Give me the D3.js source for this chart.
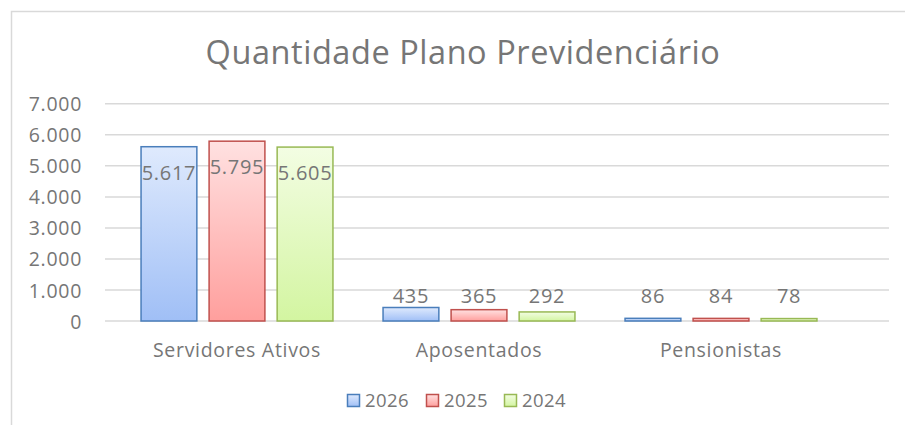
<!DOCTYPE html>
<html>
<head>
<meta charset="utf-8">
<script src="https://cdn.jsdelivr.net/npm/d3@7"></script>
<style>
  body { margin: 0; background: #fff; }
  svg { display: block; font-family: "Open Sans", sans-serif; }
</style>
</head>
<body>
<svg id="chart"></svg>
<script>
var width = 905;
var height = 425;

var categories = ['Servidores Ativos', 'Aposentados', 'Pensionistas'];
var years = ['2026', '2025', '2024'];
var values2026 = [5617, 435, 86];
var values2025 = [5795, 365, 84];
var values2024 = [5605, 292, 78];
var yTicks = [0, 1000, 2000, 3000, 4000, 5000, 6000, 7000];

var seriesValues = { '2026': values2026, '2025': values2025, '2024': values2024 };

var colors = {
    '2026': { stroke: '#4a7ebb', top: '#dfeafd', bottom: '#a0bff6' },
    '2025': { stroke: '#c0504d', top: '#ffe1e1', bottom: '#ff9f9d' },
    '2024': { stroke: '#98b954', top: '#f3fde3', bottom: '#d3f5a1' }
};

var textColor = '#767676';
var gridColor = '#d9d9d9';
var labelSize = 19.5;
var labelSpacing = '0.7px';

var svg = d3.select('#chart')
  .attr('width', width)
  .attr('height', height);

// gradients
var defs = svg.append('defs');
years.forEach(function (yr) {
    var g = defs.append('linearGradient')
      .attr('id', 'grad' + yr)
      .attr('x1', 0).attr('y1', 0).attr('x2', 0).attr('y2', 1);
    g.append('stop').attr('offset', '0%').attr('stop-color', colors[yr].top);
    g.append('stop').attr('offset', '100%').attr('stop-color', colors[yr].bottom);
});

// chart border (runs off the picture on the right and bottom)
svg.append('path')
  .attr('d', 'M11.5,' + height + 'V11.5H' + width)
  .attr('fill', 'none')
  .attr('stroke', gridColor)
  .attr('stroke-width', 1.5);

// title
svg.append('text')
  .attr('x', 463)
  .attr('y', 64)
  .attr('text-anchor', 'middle')
  .attr('fill', textColor)
  .attr('font-size', 32.5)
  .style('letter-spacing', '0.55px')
  .text('Quantidade Plano Previdenciário');

var y = d3.scaleLinear()
  .domain([0, 7000])
  .range([321, 103.8]);

var x0 = d3.scaleBand()
  .domain(categories)
  .range([116, 842])
  .paddingInner(0.207)
  .paddingOuter(0.1035);

var x1 = d3.scaleBand()
  .domain(years)
  .range([0, x0.bandwidth()])
  .paddingInner(0.18);

var fmt = function (v) {
    return d3.format(',')(v).replace(/,/g, '.');
};

// gridlines
svg.append('g')
  .selectAll('line')
  .data(yTicks)
  .enter().append('line')
  .attr('x1', 105)
  .attr('x2', 889)
  .attr('y1', function (d) { return y(d); })
  .attr('y2', function (d) { return y(d); })
  .attr('stroke', gridColor)
  .attr('stroke-width', 1.5);

// y axis labels
var yAxis = d3.axisLeft(y)
  .tickValues(yTicks)
  .tickSize(0)
  .tickPadding(0)
  .tickFormat(fmt);

var yg = svg.append('g')
  .attr('transform', 'translate(82,0)')
  .call(yAxis);
yg.select('.domain').remove();
yg.selectAll('text')
  .attr('fill', textColor)
  .attr('font-size', labelSize)
  .attr('font-family', '"Open Sans", sans-serif')
  .style('letter-spacing', labelSpacing)
  .attr('dy', '0.36em');

// bars
var groups = svg.append('g')
  .selectAll('g')
  .data(categories)
  .enter().append('g')
  .attr('transform', function (d) { return 'translate(' + x0(d) + ',0)'; });

groups.selectAll('rect')
  .data(function (c, i) {
      return years.map(function (yr) { return { year: yr, value: seriesValues[yr][i] }; });
  })
  .enter().append('rect')
  .attr('x', function (d) { return x1(d.year); })
  .attr('y', function (d) { return y(d.value); })
  .attr('width', x1.bandwidth())
  .attr('height', function (d) { return y(0) - y(d.value); })
  .attr('fill', function (d) { return 'url(#grad' + d.year + ')'; })
  .attr('stroke', function (d) { return colors[d.year].stroke; })
  .attr('stroke-width', 1.5);

// data labels: inside end for tall bars, above for short ones
groups.selectAll('text.label')
  .data(function (c, i) {
      return years.map(function (yr) { return { year: yr, value: seriesValues[yr][i] }; });
  })
  .enter().append('text')
  .attr('class', 'label')
  .attr('x', function (d) { return x1(d.year) + x1.bandwidth() / 2; })
  .attr('y', function (d) {
      if (d.value > 3000) return y(d.value) + 33;
      return Math.min(y(d.value) - 4, y(590));
  })
  .attr('text-anchor', 'middle')
  .attr('fill', textColor)
  .attr('font-size', labelSize + 0.5)
  .style('letter-spacing', labelSpacing)
  .text(function (d) { return fmt(d.value); });

// category labels
var xAxis = d3.axisBottom(x0).tickSize(0).tickPadding(0);
var xg = svg.append('g')
  .attr('transform', 'translate(0,357)')
  .call(xAxis);
xg.select('.domain').remove();
xg.selectAll('text')
  .attr('fill', textColor)
  .attr('font-size', labelSize)
  .attr('font-family', '"Open Sans", sans-serif')
  .style('letter-spacing', labelSpacing)
  .attr('dy', 0);

// legend
var legendX = [347, 426, 504];
var legend = svg.append('g')
  .selectAll('g')
  .data(years)
  .enter().append('g')
  .attr('transform', function (d, i) { return 'translate(' + legendX[i] + ',394)'; });

legend.append('rect')
  .attr('x', 0.5)
  .attr('y', 0.5)
  .attr('width', 12)
  .attr('height', 12)
  .attr('fill', function (d) { return 'url(#grad' + d + ')'; })
  .attr('stroke', function (d) { return colors[d].stroke; })
  .attr('stroke-width', 1.5);

legend.append('text')
  .attr('x', 18)
  .attr('y', 13)
  .attr('fill', textColor)
  .attr('font-size', 18.5)
  .style('letter-spacing', '0.4px')
  .text(function (d) { return d; });
</script>
</body>
</html>
